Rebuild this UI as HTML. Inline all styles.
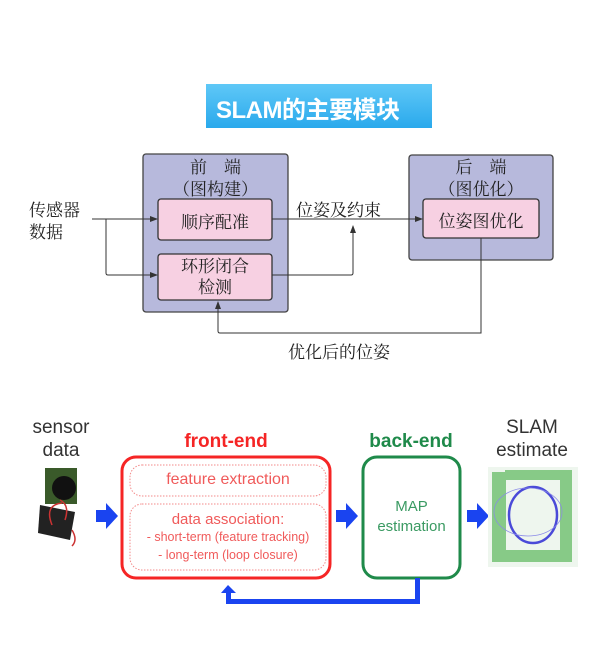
<!DOCTYPE html>
<html><head><meta charset="utf-8"><style>
body{margin:0;background:#fff;width:614px;height:670px;overflow:hidden;position:relative;font-family:"Liberation Sans","Noto Sans CJK SC",sans-serif}
.a{position:absolute}
.cn{font-family:"Liberation Serif","Noto Serif CJK SC",serif;color:#222;font-size:17px}
</style></head><body>
<div class="a" style="left:206px;top:84px;width:226px;height:44px;background:linear-gradient(#5fc8f7,#2aa9ec);"></div>
<div class="a" style="left:216px;top:90px;color:#fff;font-size:24px;font-weight:bold;font-family:'Liberation Sans Narrow','Liberation Sans','Noto Sans CJK SC',sans-serif;letter-spacing:-0.5px">SLAM的主要模块</div>

<svg class="a" style="left:0;top:0" width="614" height="670">
<defs>
<marker id="ak" markerWidth="8" markerHeight="8" refX="7" refY="4" orient="auto" markerUnits="userSpaceOnUse"><path d="M0,1 L8,4 L0,7z" fill="#333"/></marker>
</defs>
<rect x="143" y="154" width="145" height="158" rx="3" fill="#b7b9dc" stroke="#444" stroke-width="1.3"/>
<rect x="409" y="155" width="144" height="105" rx="3" fill="#b7b9dc" stroke="#444" stroke-width="1.3"/>
<rect x="158" y="199" width="114" height="41" rx="3" fill="#f7d0e2" stroke="#333" stroke-width="1.3"/>
<rect x="158" y="254" width="114" height="46" rx="3" fill="#f7d0e2" stroke="#333" stroke-width="1.3"/>
<rect x="423" y="199" width="116" height="39" rx="3" fill="#f7d0e2" stroke="#333" stroke-width="1.3"/>
<g fill="none" stroke="#333" stroke-width="1">
<path d="M92 219 H157" marker-end="url(#ak)"/>
<path d="M106 219 V273 Q106 275 108 275 H157" marker-end="url(#ak)"/>
<path d="M272 219 H422" marker-end="url(#ak)"/>
<path d="M272 275 H351 Q353 275 353 273 V226" marker-end="url(#ak)"/>
<path d="M481 238 V333 H220 Q218 333 218 331 V302" marker-end="url(#ak)"/>
</g>
<rect x="122" y="457" width="208" height="121" rx="14" fill="none" stroke="#f52525" stroke-width="3"/>
<rect x="130" y="465" width="196" height="31" rx="12" fill="none" stroke="#f38a8a" stroke-width="1" stroke-dasharray="1.5 1.5"/>
<rect x="130" y="504" width="196" height="66" rx="12" fill="none" stroke="#f38a8a" stroke-width="1" stroke-dasharray="1.5 1.5"/>
<rect x="363" y="457" width="97" height="121" rx="14" fill="none" stroke="#1f8a4a" stroke-width="3"/>
<g fill="#1a44f0">
<path d="M96 510 H106 V503 L118 516 L106 529 V522 H96z"/>
<path d="M336 510 H346 V503 L358 516 L346 529 V522 H336z"/>
<path d="M467 510 H477 V503 L489 516 L477 529 V522 H467z"/>
<path d="M228 585 L221 593 H226 V604 H420 V578 H415 V599 H231 V593 H236z"/>
</g>
<rect x="488" y="467" width="90" height="100" fill="#eef6ee"/>
<g fill="#5cb85c" opacity="0.7">
<rect x="492" y="472" width="14" height="90"/><rect x="560" y="470" width="12" height="92"/><rect x="505" y="470" width="55" height="10"/><rect x="500" y="550" width="65" height="12"/>
</g>
<ellipse cx="533" cy="515" rx="24" ry="28" fill="none" stroke="#4a4ad8" stroke-width="2.5"/>
<ellipse cx="528" cy="512" rx="34" ry="24" fill="none" stroke="#8a8ae8" stroke-width="0.7"/>
<rect x="45" y="468" width="32" height="36" fill="#3a5a2a"/><circle cx="64" cy="488" r="12" fill="#111"/>
<path d="M40 505 L75 512 L70 540 L38 533z" fill="#222"/>
<path d="M52 525 q-8 -20 10 -22 M60 500 q10 5 5 20 M72 530 q6 10 0 16" stroke="#c33" fill="none" stroke-width="1.5"/>
</svg>

<div class="a cn" style="left:29px;top:200px;line-height:22px">传感器<br>数据</div>
<div class="a cn" style="left:143px;top:157px;width:145px;text-align:center;line-height:22px">前　端<br>（图构建）</div>
<div class="a cn" style="left:158px;top:208px;width:114px;text-align:center">顺序配准</div>
<div class="a cn" style="left:158px;top:256px;width:114px;text-align:center;line-height:21px">环形闭合<br>检测</div>
<div class="a cn" style="left:296px;top:196px">位姿及约束</div>
<div class="a cn" style="left:409px;top:157px;width:144px;text-align:center;line-height:22px">后　端<br>（图优化）</div>
<div class="a cn" style="left:423px;top:207px;width:116px;text-align:center">位姿图优化</div>
<div class="a cn" style="left:288px;top:338px">优化后的位姿</div>

<div class="a" style="left:20px;top:416px;width:82px;text-align:center;font-size:19px;color:#333;line-height:23px">sensor<br>data</div>
<div class="a" style="left:122px;top:431px;width:208px;text-align:center;font-size:19px;font-weight:bold;color:#f52525">front-end</div>
<div class="a" style="left:355px;top:431px;width:112px;text-align:center;font-size:19px;font-weight:bold;color:#1f8a4a">back-end</div>
<div class="a" style="left:478px;top:416px;width:108px;text-align:center;font-size:19px;color:#333;line-height:23px">SLAM<br>estimate</div>
<div class="a" style="left:130px;top:471px;width:196px;text-align:center;font-size:16px;color:#f05a5a">feature extraction</div>
<div class="a" style="left:130px;top:511px;width:196px;text-align:center;font-size:15px;color:#f05a5a;line-height:17px">data association:<br><span style="font-size:12.5px">- short-term (feature tracking)<br>- long-term (loop closure)</span></div>
<div class="a" style="left:363px;top:497px;width:97px;text-align:center;font-size:15px;color:#3a9a62;line-height:20px">MAP<br>estimation</div>
</body></html>
